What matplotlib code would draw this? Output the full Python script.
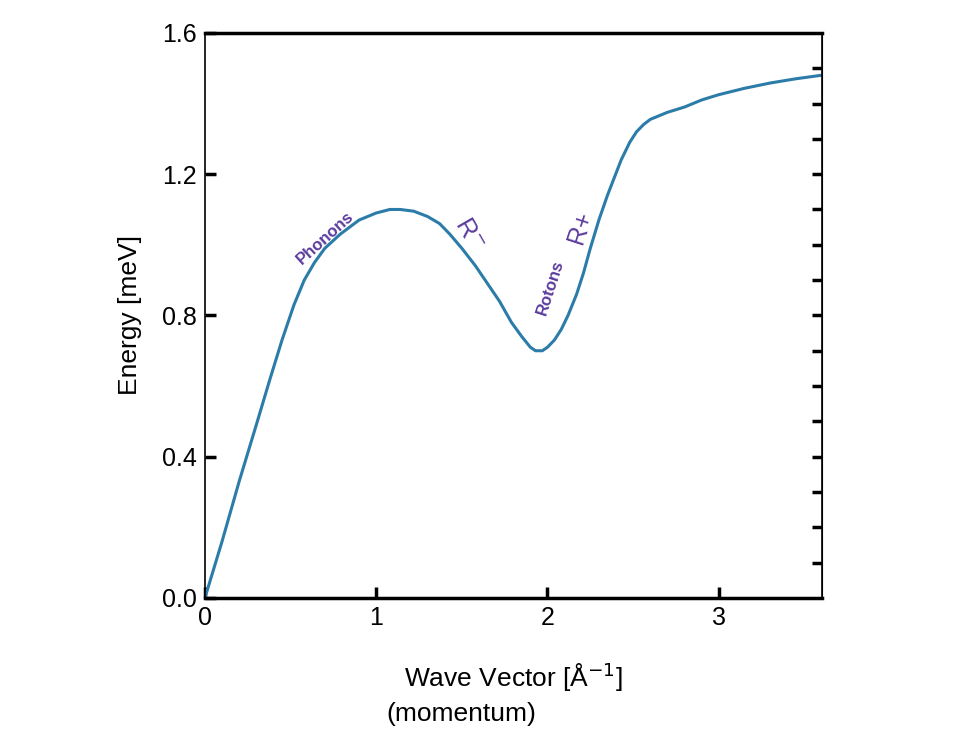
import numpy as np
import matplotlib.pyplot as plt

plt.rcParams['font.family'] = ['Liberation Sans', 'DejaVu Sans']

# dispersion curve
k = [0.0, 0.1, 0.2, 0.3, 0.38, 0.45, 0.52, 0.58, 0.64, 0.70, 0.79, 0.9, 1.0, 1.08, 1.14, 1.22, 1.3, 1.37, 1.43, 1.5, 1.58, 1.65, 1.72, 1.79, 1.85, 1.9, 1.93, 1.97, 2.0, 2.04, 2.08, 2.12, 2.17, 2.21, 2.25, 2.3, 2.35, 2.39, 2.43, 2.48, 2.52, 2.56, 2.60, 2.7, 2.8, 2.9, 3.0, 3.15, 3.3, 3.45, 3.6]
energy = [0.0, 0.16, 0.33, 0.49, 0.62, 0.73, 0.83, 0.90, 0.95, 0.99, 1.03, 1.07, 1.09, 1.10, 1.10, 1.095, 1.08, 1.06, 1.03, 0.99, 0.94, 0.89, 0.84, 0.78, 0.74, 0.71, 0.70, 0.70, 0.71, 0.73, 0.76, 0.80, 0.86, 0.92, 0.99, 1.07, 1.14, 1.19, 1.24, 1.29, 1.32, 1.34, 1.355, 1.375, 1.39, 1.41, 1.425, 1.443, 1.458, 1.47, 1.48]

curve_color = "#2b7ca8"
label_color = "#5b3b9c"

fig = plt.figure(figsize=(9.62, 7.47), dpi=100)
ax = fig.add_axes([0.213, 0.1995, 0.641, 0.7565])
ax.plot(k, energy, color=curve_color, lw=2.2)

ax.set_xlim(0, 3.6)
ax.set_ylim(0, 1.6)
ax.set_xticks([0, 1, 2, 3])
ax.set_yticks([0.0, 0.4, 0.8, 1.2, 1.6])
ax.set_yticklabels(["0.0", "0.4", "0.8", "1.2", "1.6"])
ax.tick_params(direction="in", length=8, width=2.5, labelsize=18, pad=6)
for s in ax.spines.values():
    s.set_linewidth(1.2)
ax.spines["top"].set_linewidth(2.5)
ax.spines["bottom"].set_linewidth(2.5)

# right side small ticks
ry = ax.secondary_yaxis("right")
ry.set_yticks(np.arange(0.1, 1.6, 0.1))
ry.set_yticklabels([])
ry.tick_params(direction="in", length=7, width=2.5)

ax.set_ylabel("Energy [meV]", fontsize=19, labelpad=14)
ax.set_xlabel("Wave Vector [Å$^{-1}$]", fontsize=19, labelpad=22)
fig.text(0.48, 0.035, "(momentum)", fontsize=19, ha="center")

ax.text(0.70, 1.02, "Phonons", color=label_color, fontsize=12, rotation=42,
        ha="center", va="center", fontweight="bold")
ax.text(1.54, 1.03, "R$^{-}$", color=label_color, fontsize=18, rotation=-60,
        ha="center", va="center")
ax.text(2.02, 0.88, "Rotons", color=label_color, fontsize=12, rotation=72,
        ha="center", va="center", fontweight="bold")
ax.text(2.19, 1.05, "R+", color=label_color, fontsize=18, rotation=72,
        ha="center", va="center")

fig.savefig("out.png", dpi=100)
